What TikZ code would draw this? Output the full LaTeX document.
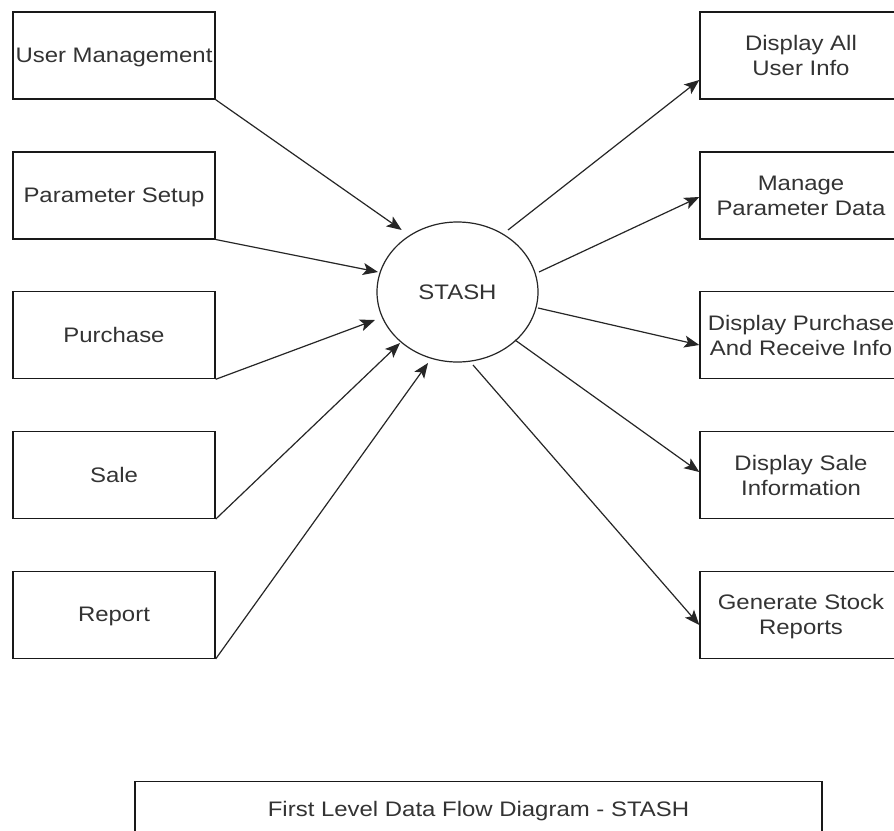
\documentclass[tikz,border=0pt]{standalone}
\usepackage{fontspec}
\setmainfont{Liberation Sans}[FakeStretch=1.14]
\usetikzlibrary{shapes.geometric,arrows.meta}
\begin{document}
\begin{tikzpicture}[x=1pt,y=-1pt,
  lbl/.style={font=\fontsize{21pt}{25pt}\selectfont, text=black!80},
  box/.style={draw=black!90, line width=1.4pt, minimum width=202pt, minimum height=87pt,
              inner sep=0pt, align=center, text depth=0pt, lbl},
  proc/.style={ellipse, draw=black!85, line width=1.2pt, minimum width=161pt,
               minimum height=140pt, inner sep=0pt, lbl},
  flow/.style={draw=black!85, line width=1.2pt, -{Stealth[length=15pt,width=12pt,inset=3.5pt]}}]
\useasboundingbox (0,0) rectangle (894,830);
\clip (0,0) rectangle (894,830);
\fill[white] (0,0) rectangle (894,830);

% central process
\node[proc] (stash) at (457.5,292) {STASH};

% left boxes
\node[box] (l1) at (114,55.5)  {User Management};
\node[box] (l2) at (114,195.3) {Parameter Setup};
\node[box] (l3) at (114,335.1) {Purchase};
\node[box] (l4) at (114,474.9) {Sale};
\node[box] (l5) at (114,614.7) {Report};

% right boxes
\node[box] (r1) at (801,55.5)  {Display All\\User Info};
\node[box] (r2) at (801,195.3) {Manage\\Parameter Data};
\node[box] (r3) at (801,335.1) {Display Purchase\\And Receive Info};
\node[box] (r4) at (801,474.9) {Display Sale\\Information};
\node[box] (r5) at (801,614.7) {Generate Stock\\Reports};

% caption box
\node[box, minimum width=687pt, minimum height=54pt, anchor=north] (cap) at (478.5,781)
  {First Level Data Flow Diagram - STASH};

% arrow ends near the ellipse
\coordinate (t1) at (401.7,230);
\coordinate (t2) at (378,272);
\coordinate (t3) at (375,320);
\coordinate (t4) at (400,343);
\coordinate (t5) at (428,363);
\coordinate (s1) at (508,230);
\coordinate (s2) at (539,272);
\coordinate (s3) at (538,308);
\coordinate (s4) at (515,340);
\coordinate (s5) at (473,365);

% incoming flows
\draw[flow] (l1.south east) -- (t1);
\draw[flow] (l2.south east) -- (t2);
\draw[flow] (l3.south east) -- (t3);
\draw[flow] (l4.south east) -- (t4);
\draw[flow] (l5.south east) -- (t5);

% outgoing flows
\draw[flow] (s1) -- (r1.west |- 0,80);
\draw[flow] (s2) -- (r2.west |- 0,197);
\draw[flow] (s3) -- (r3.west |- 0,345);
\draw[flow] (s4) -- (r4.west |- 0,472);
\draw[flow] (s5) -- (r5.west |- 0,625);
\end{tikzpicture}
\end{document}
